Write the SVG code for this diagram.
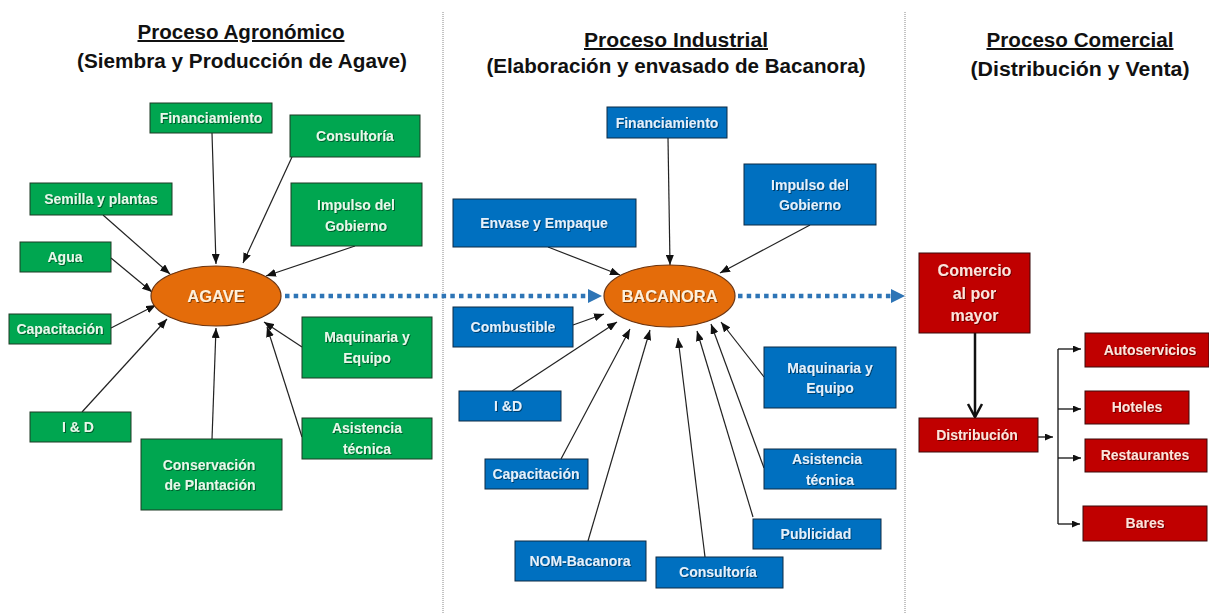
<svg xmlns="http://www.w3.org/2000/svg" width="1209" height="614" viewBox="0 0 1209 614">
<defs>
<style>
.title{font-family:"Liberation Sans",Arial,sans-serif;font-weight:bold;font-size:20px;fill:#111;text-anchor:middle}
.u{text-decoration:underline}
.lbl{font-family:"Liberation Sans",Arial,sans-serif;font-weight:bold;font-size:14px;text-anchor:middle;filter:url(#sh)}
.g rect{fill:#00A650;stroke:#1d3b24;stroke-width:1}
.g text{fill:#E9F7EA}
.b rect{fill:#0070C0;stroke:#0d2a45;stroke-width:1}
.b text{fill:#E6F0FA}
.r rect{fill:#C00000;stroke:#3a0a0a;stroke-width:1}
.r text{fill:#FBE5DC}
.ell ellipse{fill:#E46C0A;stroke:#6b3410;stroke-width:1.2}
.ell text{fill:#FDF0DC;font-size:16.5px}
.con line{stroke:#222;stroke-width:1.2;marker-end:url(#ah)}
.dot{stroke:#2E75B6;stroke-width:4.5;stroke-dasharray:4.5 4.2;fill:none}
.div{stroke:#888;stroke-width:1;stroke-dasharray:1 1}
</style>
<filter id="sh" x="-10%" y="-30%" width="130%" height="160%">
<feDropShadow dx="1" dy="1" stdDeviation="0.6" flood-color="#000" flood-opacity="0.45"/>
</filter>
<marker id="ah" markerWidth="10" markerHeight="8" refX="10" refY="4" orient="auto" markerUnits="userSpaceOnUse">
<path d="M0,0 L10,4 L0,8 z" fill="#111"/>
</marker>
<marker id="ahs" markerWidth="8" markerHeight="7" refX="8" refY="3.5" orient="auto" markerUnits="userSpaceOnUse">
<path d="M0,0 L8,3.5 L0,7 z" fill="#111"/>
</marker>
</defs>
<rect width="1209" height="614" fill="#fff"/>

<g id="dividers">
<line class="div" x1="443" y1="12" x2="443" y2="614"/>
<line class="div" x1="905" y1="12" x2="905" y2="614"/>
</g>

<g id="titles">
<text class="title u" x="241" y="39" textLength="207" lengthAdjust="spacingAndGlyphs">Proceso Agronómico</text>
<text class="title" x="242" y="68" textLength="330" lengthAdjust="spacingAndGlyphs">(Siembra y Producción de Agave)</text>
<text class="title u" x="676" y="47" textLength="184" lengthAdjust="spacingAndGlyphs">Proceso Industrial</text>
<text class="title" x="676" y="73" textLength="379" lengthAdjust="spacingAndGlyphs">(Elaboración y envasado de Bacanora)</text>
<text class="title u" x="1080" y="47" textLength="187" lengthAdjust="spacingAndGlyphs">Proceso Comercial</text>
<text class="title" x="1080" y="76" textLength="219" lengthAdjust="spacingAndGlyphs">(Distribución y Venta)</text>
</g>

<g id="connectors">
<g class="con">
<line x1="212" y1="133" x2="216" y2="264"/>
<line x1="292" y1="157" x2="243" y2="263"/>
<line x1="103" y1="215" x2="170" y2="274"/>
<line x1="111" y1="258" x2="152" y2="292"/>
<line x1="111" y1="328" x2="156" y2="305"/>
<line x1="82" y1="412" x2="167" y2="319"/>
<line x1="212" y1="439" x2="216" y2="328"/>
<line x1="355" y1="246" x2="266" y2="276"/>
<line x1="302" y1="347" x2="264" y2="322"/>
<line x1="302" y1="437" x2="267" y2="327"/>

<line x1="668" y1="138" x2="670" y2="265"/>
<line x1="548" y1="247" x2="620" y2="275"/>
<line x1="810" y1="225" x2="720" y2="273"/>
<line x1="573" y1="325" x2="604" y2="314"/>
<line x1="512" y1="391" x2="617" y2="322"/>
<line x1="561" y1="459" x2="630" y2="329"/>
<line x1="588" y1="541" x2="650" y2="330"/>
<line x1="705" y1="557" x2="678" y2="338"/>
<line x1="753" y1="517" x2="697" y2="331"/>
<line x1="764" y1="468" x2="711" y2="324"/>
<line x1="764" y1="377" x2="721" y2="322"/>
</g>
<g id="flow">
<line class="dot" x1="285" y1="296" x2="590" y2="296"/>
<path d="M588,289 L602,296 L588,303 z" fill="#2E75B6"/>
<line class="dot" x1="738" y1="296" x2="892" y2="296"/>
<path d="M891,289 L905,296 L891,303 z" fill="#2E75B6"/>
</g>
<g id="commerce-links" stroke="#111" fill="none">
<line x1="975" y1="333" x2="975" y2="417" stroke-width="2.5"/>
<polyline points="968,404 975,417 982,404" stroke-width="2.5"/>
<line x1="1038" y1="437" x2="1053" y2="437" stroke-width="1.3" marker-end="url(#ahs)"/>
<line x1="1058" y1="349" x2="1058" y2="524" stroke-width="1.3"/>
<line x1="1058" y1="349" x2="1081" y2="349" stroke-width="1.3" marker-end="url(#ahs)"/>
<line x1="1058" y1="409" x2="1081" y2="409" stroke-width="1.3" marker-end="url(#ahs)"/>
<line x1="1058" y1="458" x2="1081" y2="458" stroke-width="1.3" marker-end="url(#ahs)"/>
<line x1="1058" y1="524" x2="1080" y2="524" stroke-width="1.3" marker-end="url(#ahs)"/>
</g>
</g>

<g id="agave" class="ell"><ellipse cx="216" cy="296" rx="65" ry="30"/><text class="lbl" x="216" y="302">AGAVE</text></g>
<g id="bacanora" class="ell"><ellipse cx="669.5" cy="296" rx="65.5" ry="31"/><text class="lbl" x="669.5" y="302">BACANORA</text></g>

<g id="g-financiamiento" class="g"><rect x="150" y="103" width="122" height="30"/><text class="lbl" x="211" y="123">Financiamiento</text></g>
<g id="g-consultoria" class="g"><rect x="290" y="115" width="130" height="42"/><text class="lbl" x="355" y="141">Consultoría</text></g>
<g id="g-semilla" class="g"><rect x="30" y="183" width="142" height="32"/><text class="lbl" x="101" y="204">Semilla y plantas</text></g>
<g id="g-impulso" class="g"><rect x="291" y="183" width="131" height="63"/><text class="lbl" x="356" y="210">Impulso del</text><text class="lbl" x="356" y="231">Gobierno</text></g>
<g id="g-agua" class="g"><rect x="20" y="242" width="91" height="30"/><text class="lbl" x="65" y="262">Agua</text></g>
<g id="g-capacitacion" class="g"><rect x="9" y="314" width="102" height="30"/><text class="lbl" x="60" y="334">Capacitación</text></g>
<g id="g-maquinaria" class="g"><rect x="302" y="317" width="130" height="61"/><text class="lbl" x="367" y="342">Maquinaria y</text><text class="lbl" x="367" y="363">Equipo</text></g>
<g id="g-id" class="g"><rect x="30" y="412" width="101" height="30"/><text class="lbl" x="78" y="432">I &amp; D</text></g>
<g id="g-conservacion" class="g"><rect x="141" y="439" width="141" height="71"/><text class="lbl" x="209" y="470">Conservación</text><text class="lbl" x="210" y="490">de Plantación</text></g>
<g id="g-asistencia" class="g"><rect x="302" y="418" width="130" height="41"/><text class="lbl" x="367" y="433">Asistencia</text><text class="lbl" x="367" y="454">técnica</text></g>

<g id="b-financiamiento" class="b"><rect x="607" y="107" width="120" height="31"/><text class="lbl" x="667" y="128">Financiamiento</text></g>
<g id="b-impulso" class="b"><rect x="744" y="164" width="132" height="61"/><text class="lbl" x="810" y="190">Impulso del</text><text class="lbl" x="810" y="210">Gobierno</text></g>
<g id="b-envase" class="b"><rect x="453" y="199" width="183" height="48"/><text class="lbl" x="544" y="228">Envase y Empaque</text></g>
<g id="b-combustible" class="b"><rect x="453" y="307" width="120" height="40"/><text class="lbl" x="513" y="332">Combustible</text></g>
<g id="b-id" class="b"><rect x="459" y="391" width="102" height="30"/><text class="lbl" x="508" y="411">I &amp;D</text></g>
<g id="b-capacitacion" class="b"><rect x="485" y="459" width="103" height="30"/><text class="lbl" x="536" y="479">Capacitación</text></g>
<g id="b-nom" class="b"><rect x="515" y="541" width="131" height="40"/><text class="lbl" x="580" y="566">NOM-Bacanora</text></g>
<g id="b-consultoria" class="b"><rect x="656" y="557" width="127" height="31"/><text class="lbl" x="718" y="577">Consultoría</text></g>
<g id="b-publicidad" class="b"><rect x="753" y="519" width="128" height="30"/><text class="lbl" x="816" y="539">Publicidad</text></g>
<g id="b-asistencia" class="b"><rect x="764" y="449" width="132" height="40"/><text class="lbl" x="827" y="464">Asistencia</text><text class="lbl" x="830" y="485">técnica</text></g>
<g id="b-maquinaria" class="b"><rect x="764" y="347" width="132" height="61"/><text class="lbl" x="830" y="373">Maquinaria y</text><text class="lbl" x="830" y="393">Equipo</text></g>

<g id="r-comercio" class="r"><rect x="919" y="253" width="111" height="80"/><text class="lbl" x="974.5" y="276" style="font-size:16px">Comercio</text><text class="lbl" x="974.5" y="299" style="font-size:16px">al por</text><text class="lbl" x="974.5" y="321" style="font-size:16px">mayor</text></g>
<g id="r-distribucion" class="r"><rect x="919" y="418" width="119" height="34"/><text class="lbl" x="977" y="440">Distribución</text></g>
<g id="r-autoservicios" class="r"><rect x="1085" y="333" width="124" height="34"/><text class="lbl" x="1150" y="355">Autoservicios</text></g>
<g id="r-hoteles" class="r"><rect x="1085" y="391" width="104" height="33"/><text class="lbl" x="1137" y="412">Hoteles</text></g>
<g id="r-restaurantes" class="r"><rect x="1085" y="439" width="122" height="33"/><text class="lbl" x="1145" y="460">Restaurantes</text></g>
<g id="r-bares" class="r"><rect x="1083" y="506" width="124" height="35"/><text class="lbl" x="1145" y="528">Bares</text></g>
</svg>
